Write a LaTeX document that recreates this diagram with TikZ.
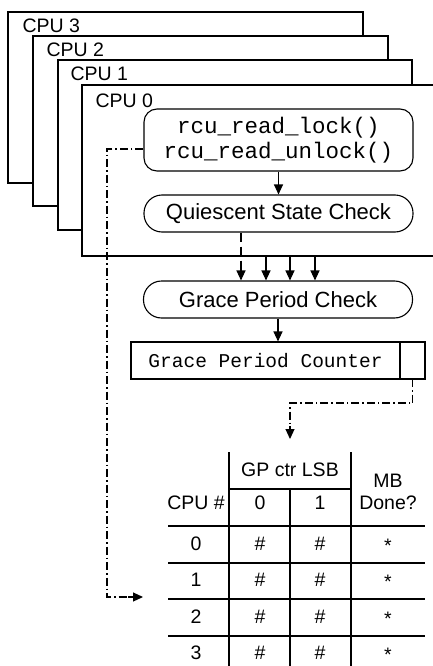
\documentclass[tikz,border=0pt]{standalone}
\usepackage{fontspec}
\setmainfont{Liberation Sans}
\setmonofont{Liberation Mono}
\usetikzlibrary{arrows.meta}
\begin{document}
\begin{tikzpicture}[x=1pt,y=-1pt,line width=1.1pt,
  cpuframe/.style={draw,fill=white},
  cpulabel/.style={anchor=base west,inner sep=0pt,font=\fontsize{19.5}{20}\selectfont},
  pill/.style={draw,rounded corners=18pt,minimum width=269pt,inner sep=0pt},
  bigtext/.style={font=\fontsize{22}{24}\selectfont},
  tbl/.style={inner sep=0pt,font=\fontsize{19.5}{22}\selectfont},
  arr/.style={-{Triangle[length=10pt,width=9pt]}},
  dashdot/.style={dash pattern=on 8pt off 3pt on 1.5pt off 3pt},
  dsh/.style={dash pattern=on 9pt off 5pt}]
\useasboundingbox (0,0) rectangle (433,666);
\begin{scope}
\clip (0,0) rectangle (433,666);
% stacked CPU frames, back to front
\draw[cpuframe] (8,12) rectangle (363,183);
\node[cpulabel] (l3) at (22,33) {CPU 3};
\draw[cpuframe] (33,36) rectangle (388,206);
\node[cpulabel] (l2) at (46,57) {CPU 2};
\draw[cpuframe] (58,60) rectangle (412,230);
\node[cpulabel] (l1) at (70,81) {CPU 1};
\draw[cpuframe] (82,85) rectangle (445,256);
\node[cpulabel] (l0) at (95,107) {CPU 0};
\end{scope}

% per-CPU boxes
\node[pill,rounded corners=13pt,minimum height=62pt,align=center,
      font=\fontsize{22.5}{25}\ttfamily] (rcu) at (278.5,140)
  {rcu\_read\_lock()\\rcu\_read\_unlock()};
\node[pill,minimum height=37pt,bigtext] (qsc) at (278.5,213.5) {Quiescent State Check};
\draw[arr] (rcu) -- (qsc);

% global boxes
\node[pill,minimum height=37pt,bigtext] (gpc) at (278,299.5) {Grace Period Check};
\coordinate (c1) at (266,256);
\coordinate (c2) at (290,256);
\coordinate (c3) at (315,256);
\draw[dsh,shorten >=10pt] (qsc.south -| 241,0) -- (241,281);
\draw[arr] (241,268) -- (gpc.north -| 241,0);
\draw[arr] (c1) -- (gpc.north -| c1);
\draw[arr] (c2) -- (gpc.north -| c2);
\draw[arr] (c3) -- (gpc.north -| c3);

\node[draw,minimum width=294pt,minimum height=37pt,inner sep=0pt,
      font=\fontsize{19.5}{20}\ttfamily] (gpctr) at (278,360.5) {};
\node[inner sep=0pt,font=\fontsize{19.5}{20}\ttfamily] (gpctrtxt) at (265.5,361) {Grace Period Counter};
\draw (400,342) -- (400,379);
\coordinate (lsb) at (412.5,379);
\draw[arr] (gpc) -- (gpctr.north -| gpc);

% table
\coordinate (tt) at (290,439);
\draw[dashdot] (lsb) -- (412.5,403) -- (290,403) -- (290,428);
\draw[arr] (290,426) -- (tt);

\draw (229,452) -- (229,666);
\draw (351,452) -- (351,666);
\draw (290,489) -- (290,666);
\draw (229,489) -- (351,489);
\foreach \yy in {526,563,599,636} \draw (168,\yy) -- (425,\yy);

\node[tbl] (h1) at (290,470) {GP ctr LSB};
\node[tbl] (h2) at (388,481) {MB};
\node[tbl] (h3) at (388,503) {Done?};
\node[tbl] (h4) at (196,503) {CPU \#};
\node[tbl] (h5) at (260,503) {0};
\node[tbl] (h6) at (320,503) {1};
\foreach \r/\yy in {0/544,1/580,2/617,3/653} {
  \node[tbl] (r\r a) at (196,\yy) {\r};
  \node[tbl] (r\r b) at (260,\yy) {\#};
  \node[tbl] (r\r c) at (320,\yy) {\#};
  \node[tbl] (r\r d) at (388,\yy+2) {*};
}

% reader path to the table
\coordinate (tin) at (143,597);
\draw[dashdot] (rcu.west |- 0,149) -- (107,149) -- (107,597) -- (132,597);
\draw[arr] (128,597) -- (tin);
\end{tikzpicture}
\end{document}
